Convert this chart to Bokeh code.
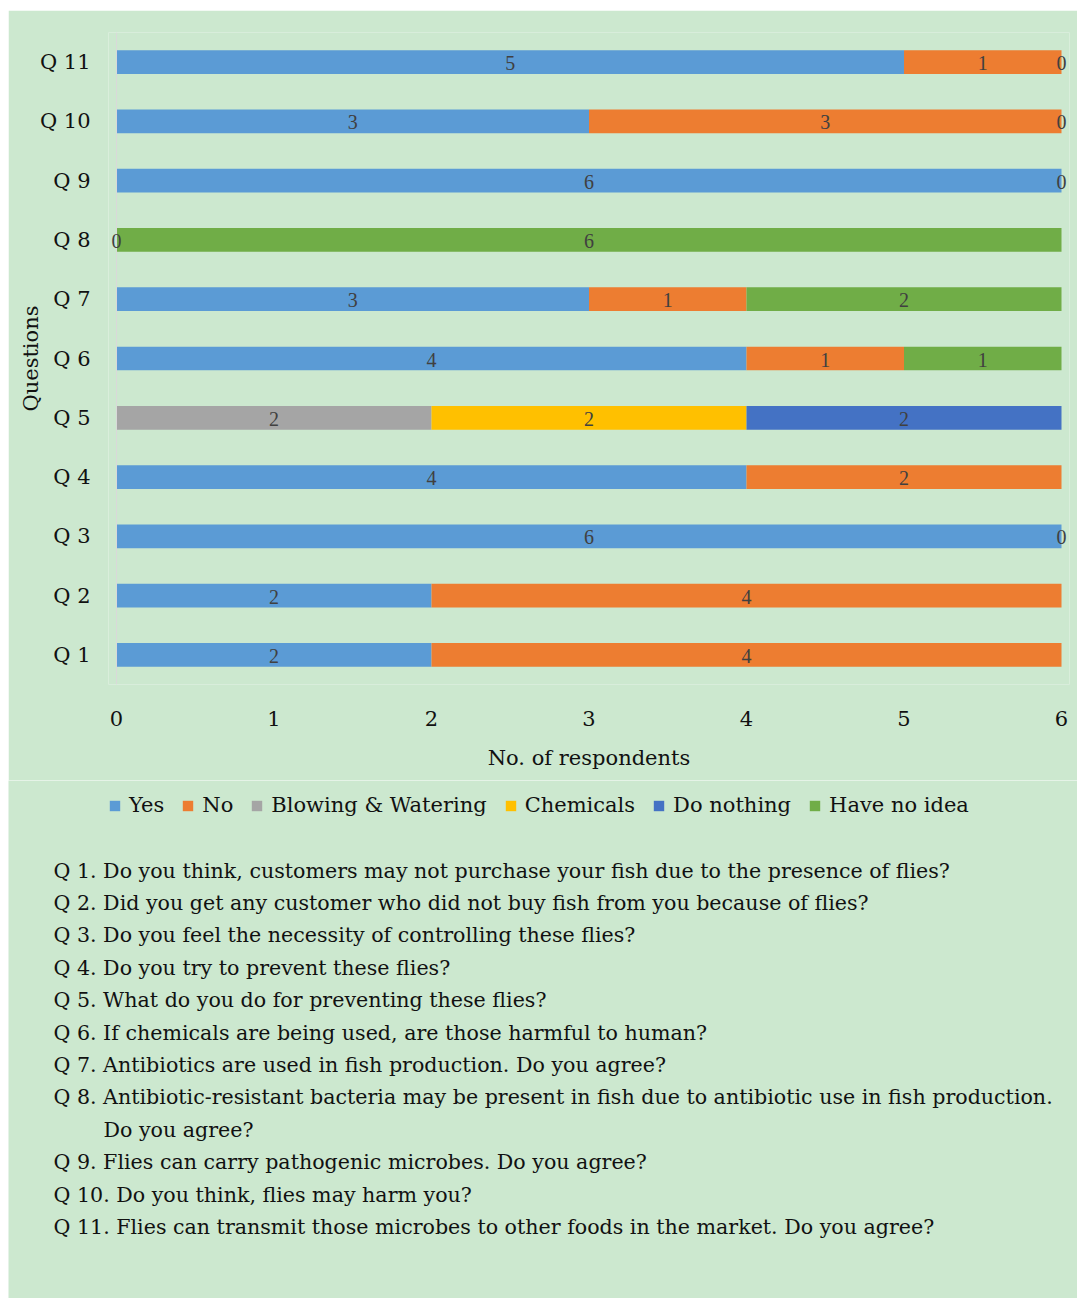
from bokeh.plotting import figure
from bokeh.models import (ColumnDataSource, LabelSet, Legend, LegendItem,
                          Range1d, FactorRange, Span)
from bokeh.layouts import column
from bokeh.core.properties import value
from bokeh.embed import file_html
from bokeh.resources import INLINE

# ---------------- data ----------------
questions = ["Q 1", "Q 2", "Q 3", "Q 4", "Q 5", "Q 6", "Q 7", "Q 8", "Q 9", "Q 10", "Q 11"]
series_names = ["Yes", "No", "Blowing & Watering", "Chemicals", "Do nothing", "Have no idea"]
yes       = [2, 2, 6, 4, None, 4, 3, 0, 6, 3, 5]
no        = [4, 4, 0, 2, None, 1, 1, None, 0, 3, 1]
blowing   = [None, None, None, None, 2, None, None, None, None, None, None]
chemicals = [None, None, None, None, 2, None, None, None, None, None, None]
nothing   = [None, None, None, None, 2, None, None, None, None, None, None]
no_idea   = [None, None, None, None, None, 1, 2, 6, None, 0, 0]
x_ticks = [0, 1, 2, 3, 4, 5, 6]
question_texts = [
    "Q 1. Do you think, customers may not purchase your fish due to the presence of flies?",
    "Q 2. Did you get any customer who did not buy fish from you because of flies?",
    "Q 3. Do you feel the necessity of controlling these flies?",
    "Q 4. Do you try to prevent these flies?",
    "Q 5. What do you do for preventing these flies?",
    "Q 6. If chemicals are being used, are those harmful to human?",
    "Q 7. Antibiotics are used in fish production. Do you agree?",
    "Q 8. Antibiotic-resistant bacteria may be present in fish due to antibiotic use in fish production.",
    "Do you agree?",
    "Q 9. Flies can carry pathogenic microbes. Do you agree?",
    "Q 10. Do you think, flies may harm you?",
    "Q 11. Flies can transmit those microbes to other foods in the market. Do you agree?",
]

series_values = [yes, no, blowing, chemicals, nothing, no_idea]
colors = ["#5B9BD5", "#ED7D31", "#A5A5A5", "#FFC000", "#4472C4", "#70AD47"]

BG = "#CCE8CF"
FONT = "DejaVu Serif"
TXT = "#111111"

OX, OY = 8, 10                    # white page margin around the chart box
W = 1077 - OX
H1 = 780 - OY
H2 = 1298 - 780
FL, FR, FT = 108 - OX, 8, 32 - OY
FRAME_H = 652
FB = H1 - FT - FRAME_H
UX = 157.5                        # px per respondent
PAD = 8 / UX                      # small room so end labels are not clipped

p = figure(width=W, height=H1, output_backend="svg", toolbar_location=None,
           x_range=Range1d(-PAD, 6 + PAD), y_range=FactorRange(factors=questions),
           min_border_left=FL, min_border_right=FR, min_border_top=FT,
           min_border_bottom=FB)
p.frame_align = False
p.background_fill_color = BG
p.border_fill_color = BG
p.outline_line_color = None
p.xgrid.grid_line_color = None
p.ygrid.grid_line_color = None

# stacked bars
cum = [0.0] * len(questions)
lab_x, lab_y, lab_t = [], [], []
for name, vals, col in zip(series_names, series_values, colors):
    ys, lefts, rights = [], [], []
    for i, v in enumerate(vals):
        if v is None:
            continue
        ys.append(questions[i]); lefts.append(cum[i]); rights.append(cum[i] + v)
        lab_x.append(cum[i] + v / 2.0); lab_y.append(questions[i]); lab_t.append(str(v))
        cum[i] += v
    src = ColumnDataSource(dict(y=ys, left=lefts, right=rights))
    p.hbar(y="y", left="left", right="right", height=0.4, source=src,
           fill_color=col, line_color=None)

p.add_layout(Span(location=0, dimension="height", line_color="#D9D9D9", line_width=1))

lab_src = ColumnDataSource(dict(x=lab_x, y=lab_y, t=lab_t))
p.add_layout(LabelSet(x="x", y="y", text="t", source=lab_src, text_align="center",
                      text_baseline="middle", text_font=FONT, text_font_size="20px",
                      text_color="#404040", y_offset=-1))

# axes
p.xaxis.ticker = x_ticks
p.xaxis.axis_line_color = None
p.xaxis.major_tick_line_color = None
p.xaxis.minor_tick_line_color = None
p.xaxis.major_label_text_font = FONT
p.xaxis.major_label_text_font_size = "21px"
p.xaxis.major_label_text_color = TXT
p.xaxis.major_label_standoff = 20
p.xaxis.axis_label = "No. of respondents"
p.xaxis.axis_label_text_font = FONT
p.xaxis.axis_label_text_font_size = "21px"
p.xaxis.axis_label_text_font_style = "normal"
p.xaxis.axis_label_text_color = TXT
p.xaxis.axis_label_standoff = 17

p.yaxis.axis_line_color = None
p.yaxis.major_tick_line_color = None
p.yaxis.minor_tick_line_color = None
p.yaxis.major_label_text_font = FONT
p.yaxis.major_label_text_font_size = "21px"
p.yaxis.major_label_text_color = TXT
p.yaxis.major_label_standoff = 12
p.yaxis.axis_label = "Questions"
p.yaxis.axis_label_text_font = FONT
p.yaxis.axis_label_text_font_size = "21px"
p.yaxis.axis_label_text_font_style = "normal"
p.yaxis.axis_label_text_color = TXT
p.yaxis.axis_label_standoff = -6

# second panel: legend + question list (frame covers the whole canvas; units = px)
p2 = figure(width=W, height=H2, output_backend="svg", toolbar_location=None,
            x_range=Range1d(OX, OX + W), y_range=Range1d(780 + H2, 780),
            min_border_left=0, min_border_right=0,
            min_border_top=0, min_border_bottom=0)
p2.frame_align = False
p2.axis.visible = False
p2.grid.visible = False
p2.outline_line_color = None
p2.background_fill_color = BG
p2.border_fill_color = BG

nan = float("nan")
items = []
for name, col in zip(series_names, colors):
    proxy = ColumnDataSource(dict(y=[nan], left=[nan], right=[nan]))
    r = p2.hbar(y="y", left="left", right="right", height=1, source=proxy,
                fill_color=col, line_color=None)
    items.append(LegendItem(label=name, renderers=[r]))

LEG_CY = 805 - 780                # legend centre, px from top of panel
LEG_H = 24
legend = Legend(items=items, orientation="horizontal",
                location=(108 - OX, H2 - LEG_CY - LEG_H / 2),
                label_text_font=FONT, label_text_font_size="21px",
                label_text_color=TXT, glyph_width=13, glyph_height=13,
                label_height=LEG_H, label_standoff=8, spacing=17, padding=0,
                margin=0, background_fill_alpha=0, border_line_color=None)
p2.add_layout(legend, "center")

line_y = [870, 902, 934, 967, 999, 1032, 1064, 1096, 1129, 1161, 1194, 1226]
qx = [103 if t == "Do you agree?" else 53 for t in question_texts]
p2.text(x=qx, y=line_y, text=question_texts, text_align="left", text_baseline="middle",
        text_font=value(FONT), text_font_size="20.6px", text_color=TXT)

layout = column(p, p2, spacing=0, margin=(OY, 0, 0, OX))
open("out.html", "w").write(file_html(layout, INLINE))
